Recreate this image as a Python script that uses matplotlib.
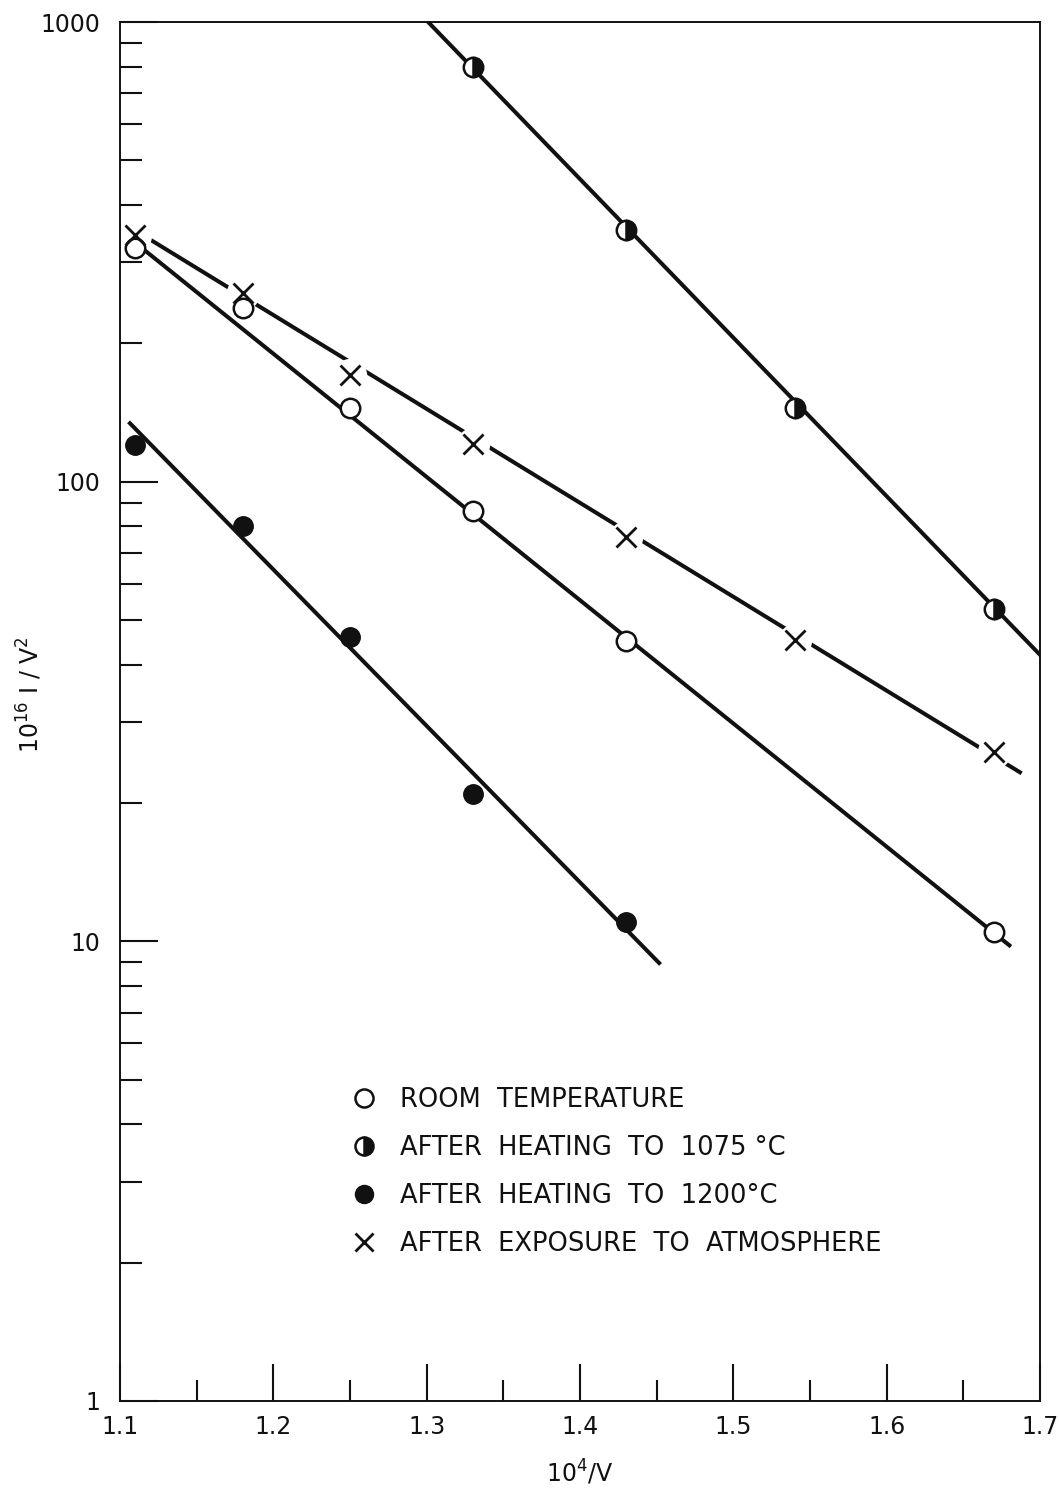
import matplotlib
matplotlib.use("Agg")
import matplotlib.pyplot as plt
from matplotlib.lines import Line2D
from matplotlib.ticker import LogLocator, FixedLocator, NullFormatter

# ── data ─────────────────────────────────────────────────────────────────────
room_x = [1.11, 1.18, 1.25, 1.33, 1.43, 1.67]
room_y = [322, 239, 145, 86.3, 45, 10.5]
room_fit_x = [1.11, 1.68]
room_fit_y = [331, 9.8]

h1075_x = [1.33, 1.43, 1.54, 1.67]
h1075_y = [798, 352, 145, 52.8]
h1075_fit_x = [1.301, 1.70]
h1075_fit_y = [1000, 42]

h1200_x = [1.11, 1.18, 1.25, 1.33, 1.43]
h1200_y = [120, 80, 46, 20.9, 11]
h1200_fit_x = [1.1065, 1.4516]
h1200_fit_y = [134, 8.97]

atm_x = [1.11, 1.18, 1.25, 1.33, 1.43, 1.54, 1.67]
atm_y = [344, 257, 171, 121, 75.8, 45.2, 25.8]
atm_fit_x = [1.118, 1.688]
atm_fit_y = [339, 23.2]

x_ticks = [1.1, 1.2, 1.3, 1.4, 1.5, 1.6, 1.7]
x_minor = [1.15, 1.25, 1.35, 1.45, 1.55, 1.65]
y_ticks = [1, 10, 100, 1000]
y_labels = ["1", "10", "100", "1000"]

labels = ["ROOM  TEMPERATURE", "AFTER  HEATING  TO  1075 °C",
          "AFTER  HEATING  TO  1200°C", "AFTER  EXPOSURE  TO  ATMOSPHERE"]

K = "#111111"
LW = 2.9
plt.rcParams["font.family"] = "DejaVu Sans"

fig = plt.figure(figsize=(10.59, 14.91), dpi=100)
ax = fig.add_axes([0.1133, 0.0604, 0.8688, 0.9248])
ax.set_yscale("log")
ax.set_xlim(1.1, 1.7)
ax.set_ylim(1, 1000)

# atmosphere line, broken around each cross (white disk masks the line)
ax.plot(atm_fit_x, atm_fit_y, color=K, lw=LW, solid_capstyle="butt", zorder=2)
ax.plot(atm_x, atm_y, ls="none", marker="o", ms=24, mfc="white", mec="none", zorder=2.5)
ax.plot(atm_x, atm_y, ls="none", marker="x", ms=14, mec=K, mew=2.0, zorder=6)

ax.plot(room_fit_x, room_fit_y, color=K, lw=LW, zorder=3)
ax.plot(room_x, room_y, ls="none", marker="o", ms=14, mfc="white", mec=K, mew=1.8, zorder=4)

ax.plot(h1075_fit_x, h1075_fit_y, color=K, lw=LW, zorder=3)
ax.plot(h1075_x, h1075_y, ls="none", marker="o", ms=14, fillstyle="right",
        mfc=K, mfcalt="white", mec=K, mew=1.8, zorder=4)

ax.plot(h1200_fit_x, h1200_fit_y, color=K, lw=LW, zorder=3)
ax.plot(h1200_x, h1200_y, ls="none", marker="o", ms=14, mfc=K, mec=K, zorder=4)

# axes styling
for s in ax.spines.values():
    s.set_linewidth(1.4)
    s.set_color(K)
ax.xaxis.set_major_locator(FixedLocator(x_ticks))
ax.xaxis.set_minor_locator(FixedLocator(x_minor))
ax.set_xticklabels([f"{v:.1f}" for v in x_ticks])
ax.yaxis.set_major_locator(FixedLocator(y_ticks))
ax.yaxis.set_minor_locator(LogLocator(base=10, subs=range(2, 10)))
ax.yaxis.set_minor_formatter(NullFormatter())
ax.set_yticklabels(y_labels)
ax.tick_params(which="both", direction="in", top=False, right=False,
               color=K, width=1.5, labelsize=17, labelcolor=K)
ax.tick_params(axis="y", which="major", length=27, pad=14)
ax.tick_params(axis="y", which="minor", length=16)
ax.tick_params(axis="x", which="major", length=27, pad=10)
ax.tick_params(axis="x", which="minor", length=15)

ax.set_xlabel("10$^4$/V", fontsize=17, color=K)
ax.xaxis.set_label_coords(0.5, -0.052)
ax.xaxis.label.set_va("center")
ax.set_ylabel("10$^{16}$ I / V$^2$", fontsize=17, color=K)
ax.yaxis.set_label_coords(-0.098, 0.512)
ax.yaxis.label.set_va("center")

handles = [
    Line2D([], [], ls="none", marker="o", ms=13, mfc="white", mec=K, mew=1.8),
    Line2D([], [], ls="none", marker="o", ms=13, fillstyle="right", mfc=K,
           mfcalt="white", mec=K, mew=1.8),
    Line2D([], [], ls="none", marker="o", ms=13, mfc=K, mec=K),
    Line2D([], [], ls="none", marker="x", ms=13, mec=K, mew=2.0),
]
leg = ax.legend(handles, labels, loc="upper left", bbox_to_anchor=(0.24, 0.235),
                frameon=False, fontsize=18.5, labelspacing=0.85, handlelength=1.0,
                handletextpad=0.9, borderaxespad=0)
for t in leg.get_texts():
    t.set_color(K)

fig.savefig("out.png", dpi=100, facecolor="white")
